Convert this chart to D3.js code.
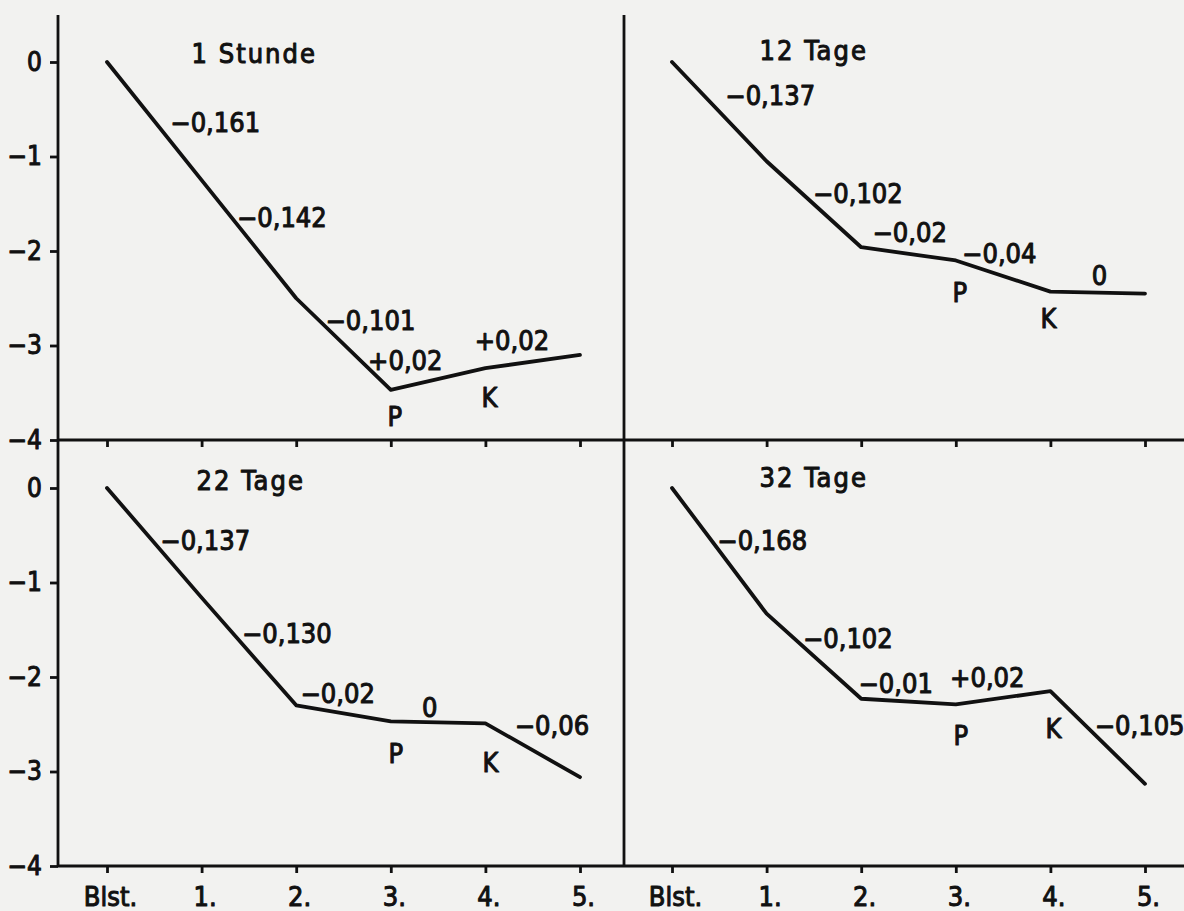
<!DOCTYPE html>
<html>
<head>
<meta charset="utf-8">
<script src="https://cdn.jsdelivr.net/npm/d3@7"></script>
<style>
  html, body { margin: 0; padding: 0; background: #f2f2f0; }
  svg { display: block; }
  text { font-family: "DejaVu Sans Condensed", "DejaVu Sans", sans-serif; fill: #111; stroke: #111; stroke-width: 1.0px; stroke-linejoin: round; }
</style>
</head>
<body>
<svg id="chart" width="1184" height="911"></svg>
<script>
// ---------------- DATA ----------------
const categories = ["Blst.", "1.", "2.", "3.", "4.", "5."];
const panelTitles = ["1 Stunde", "12 Tage", "22 Tage", "32 Tage"];
const yTicks = [0, -1, -2, -3, -4];

// cumulative values per panel
const valuesStunde1 = [0, -1.25, -2.50, -3.47, -3.24, -3.10];
const valuesTage12  = [0, -1.05, -1.96, -2.10, -2.43, -2.45];
const valuesTage22  = [0, -1.16, -2.30, -2.47, -2.49, -3.06];
const valuesTage32  = [0, -1.33, -2.23, -2.29, -2.15, -3.13];

// segment slope labels (segments Blst.-1., 1.-2., 2.-3., 3.-4., 4.-5.)
const slopesStunde1 = ["\u22120,161", "\u22120,142", "\u22120,101", "+0,02", "+0,02"];
const slopesTage12  = ["\u22120,137", "\u22120,102", "\u22120,02", "\u22120,04", "0"];
const slopesTage22  = ["\u22120,137", "\u22120,130", "\u22120,02", "0", "\u22120,06"];
const slopesTage32  = ["\u22120,168", "\u22120,102", "\u22120,01", "+0,02", "\u22120,105"];

// point markers
const pointLabels = [{ idx: 3, text: "P" }, { idx: 4, text: "K" }];

// ---------------- LAYOUT ----------------
const L = { axisX: 58, divX: 624, right: 1184, top: 15, midY: 440, botY: 866 };
const xRanges = { left: [107, 580], right: [672, 1145] };
const yRanges = { top: [62, 440], bottom: [488, 866] };

// label offsets (px) relative to segment midpoints
const slopeOffsets = [
  [[16, 11], [-12, -12], [-18, -14], [-70, -9], [-58, -12]],
  [[6, -7], [-1, -1], [-36, -12], [-41, -13], [-6, -8]],
  [[6, 7], [-7, -8], [-43, -10], [-16, -5], [-18, -15]],
  [[-2, -1], [-11, -8], [-50, -9], [-53, -11], [-3, -2]]
];
// P/K offsets relative to points
const pointOffsets = [
  [[4, 36], [4, 39]],
  [[4, 42], [-2, 36]],
  [[5, 42], [5, 49]],
  [[5, 41], [3, 47]]
];
const titleOffset = [[-10, 1], [-7, -2], [-5, 2], [-7, -1]];

const svg = d3.select("#chart");
const ink = "#111";

const xLeft = d3.scalePoint().domain(categories).range(xRanges.left);
const xRight = d3.scalePoint().domain(categories).range(xRanges.right);
const yTop = d3.scaleLinear().domain([0, -4]).range(yRanges.top);
const yBot = d3.scaleLinear().domain([0, -4]).range(yRanges.bottom);

const panels = [
  { title: panelTitles[0], values: valuesStunde1, slopes: slopesStunde1, x: xLeft,  y: yTop },
  { title: panelTitles[1], values: valuesTage12,  slopes: slopesTage12,  x: xRight, y: yTop },
  { title: panelTitles[2], values: valuesTage22,  slopes: slopesTage22,  x: xLeft,  y: yBot },
  { title: panelTitles[3], values: valuesTage32,  slopes: slopesTage32,  x: xRight, y: yBot }
];

// ---------------- FRAME LINES ----------------
const frame = svg.append("g").attr("stroke", ink).attr("stroke-width", 2.8).attr("fill", "none");
frame.append("line").attr("x1", L.axisX).attr("x2", L.axisX).attr("y1", L.top).attr("y2", L.botY + 1);
frame.append("line").attr("x1", L.divX).attr("x2", L.divX).attr("y1", L.top).attr("y2", L.botY);
frame.append("line").attr("x1", L.axisX).attr("x2", L.right).attr("y1", L.midY).attr("y2", L.midY);
frame.append("line").attr("x1", L.axisX).attr("x2", L.right).attr("y1", L.botY).attr("y2", L.botY);

// ---------------- AXES ----------------
function styleAxis(g) {
  g.select(".domain").remove();
  g.selectAll(".tick line").attr("stroke", ink).attr("stroke-width", 2.8);
  g.selectAll(".tick text").attr("fill", ink);
}
const fmtY = d => d === 0 ? "0" : "\u2212" + Math.abs(d);

[yTop, yBot].forEach(ys => {
  svg.append("g")
    .attr("transform", `translate(${L.axisX},0)`)
    .call(d3.axisLeft(ys).tickValues(yTicks).tickFormat(fmtY).tickSize(8).tickPadding(8))
    .call(styleAxis)
    .selectAll("text").attr("font-size", 26).attr("font-family", null);
});

[xLeft, xRight].forEach(xs => {
  svg.append("g")
    .attr("transform", `translate(0,${L.midY})`)
    .call(d3.axisBottom(xs).tickSize(7).tickFormat(""))
    .call(styleAxis);
  const g = svg.append("g")
    .attr("transform", `translate(0,${L.botY})`)
    .call(d3.axisBottom(xs).tickSize(7).tickPadding(14))
    .call(styleAxis);
  g.selectAll("text").attr("font-size", 27).attr("font-family", null).attr("dx", 3);
});

// ---------------- LINES & LABELS ----------------
panels.forEach((p, pi) => {
  const g = svg.append("g");
  const line = d3.line()
    .x((d, i) => p.x(categories[i]))
    .y(d => p.y(d));
  g.append("path")
    .datum(p.values)
    .attr("d", line)
    .attr("fill", "none")
    .attr("stroke", ink)
    .attr("stroke-width", 3.8)
    .attr("stroke-linejoin", "round")
    .attr("stroke-linecap", "round");

  // title
  g.append("text")
    .attr("x", p.x(categories[1]) + titleOffset[pi][0])
    .attr("y", p.y(0) + titleOffset[pi][1])
    .attr("font-size", 27)
    .attr("letter-spacing", 2)
    .text(p.title);

  // slope labels
  p.slopes.forEach((s, i) => {
    const mx = (p.x(categories[i]) + p.x(categories[i + 1])) / 2;
    const my = (p.y(p.values[i]) + p.y(p.values[i + 1])) / 2;
    g.append("text")
      .attr("x", mx + slopeOffsets[pi][i][0])
      .attr("y", my + slopeOffsets[pi][i][1])
      .attr("font-size", 27)
      .text(s);
  });

  // P / K
  pointLabels.forEach((pl, k) => {
    g.append("text")
      .attr("x", p.x(categories[pl.idx]) + pointOffsets[pi][k][0])
      .attr("y", p.y(p.values[pl.idx]) + pointOffsets[pi][k][1])
      .attr("text-anchor", "middle")
      .attr("font-size", 27)
      .text(pl.text);
  });
});
</script>
</body>
</html>
